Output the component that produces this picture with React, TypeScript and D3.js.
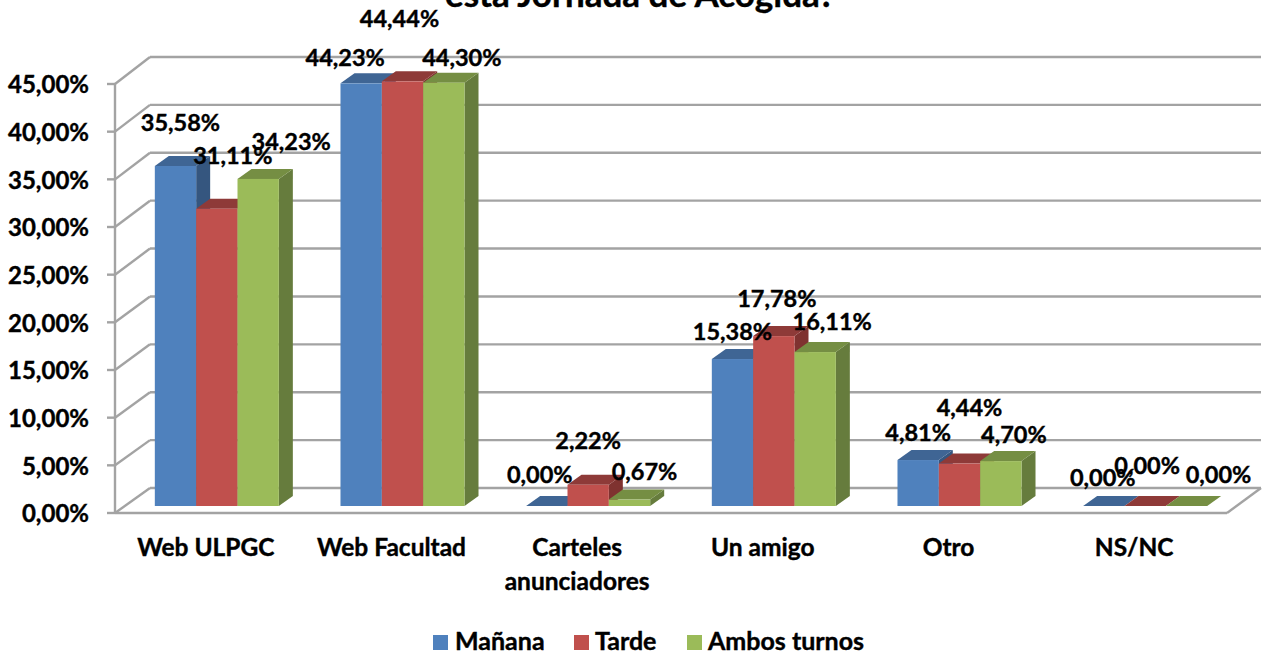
import React from 'react';
import * as d3 from 'd3';

const categories = [['Web ULPGC'], ['Web Facultad'], ['Carteles', 'anunciadores'], ['Un amigo'], ['Otro'], ['NS/NC']];
const manana = [35.58, 44.23, 0, 15.38, 4.81, 0];
const tarde = [31.11, 44.44, 2.22, 17.78, 4.44, 0];
const ambos = [34.23, 44.3, 0.67, 16.11, 4.7, 0];
const seriesNames = ['Mañana', 'Tarde', 'Ambos turnos'];
const yTicks = [0, 5, 10, 15, 20, 25, 30, 35, 40, 45];

// front, top, side colours per series
const colors = [
  ['#4F81BD', '#3F6594', '#35567F'],
  ['#C0504D', '#8E3A38', '#7F3230'],
  ['#9BBB59', '#758E43', '#667C3D'],
];

// data labels were dragged around by hand in the original, [dx, dy] from bar top
const labelOffsets = [
  [[5, -43], [16, -53], [33, -37]],
  [[-16, -26], [-3, -63], [18, -25]],
  [[-7, -31], [0, -44], [15, -28]],
  [[0, -27], [3, -37], [17, -30]],
  [[0, -27], [10, -56], [13, -26]],
  [[-1, -28], [2, -40], [32, -31]],
];

const FONT = 'Lato, sans-serif';
const GRID = '#A3A3A3';

const pct = (v: number) => v.toFixed(2).replace('.', ',') + '%';
const poly = d3.line().curve(d3.curveLinearClosed);

export default function App() {
  const series = [manana, tarde, ambos];

  const yFront = d3.scaleLinear().domain([0, 45]).range([513, 84]);
  const yBack = d3.scaleLinear().domain([0, 45]).range([488, 57]);
  const yBar = d3.scaleLinear().domain([0, 45]).range([506, 76]);

  const x0 = d3
    .scaleBand<number>()
    .domain(d3.range(categories.length))
    .range([124, 1238])
    .paddingInner(0.332)
    .paddingOuter(0.166);
  const x1 = d3.scaleBand<number>().domain([0, 1, 2]).range([0, x0.bandwidth()]);
  const bw = x1.bandwidth();

  const depthX = 14;
  const depthY = 10;

  const left = 115;
  const right = 1227;
  const backLeft = 150;
  const backRight = 1261;

  const labelCx = (i: number) => x0(i)! + x0.bandwidth() / 2 - 11;

  return (
    <svg
      width={1267}
      height={657}
      style={{ position: 'absolute', left: 0, top: 0, background: '#fff' }}
      fontFamily={FONT}
    >
      <text x={640} y={7} textAnchor="middle" fontWeight="700" fontSize={35} stroke="#000" strokeWidth={0.4}>
        esta Jornada de Acogida?
      </text>

      {/* walls */}
      <g stroke={GRID} strokeWidth={2.4} fill="none">
        {yTicks.map((t) => (
          <g key={t}>
            <line x1={backLeft} x2={backRight} y1={yBack(t)} y2={yBack(t)} />
            <line x1={left} x2={backLeft} y1={yFront(t)} y2={yBack(t)} />
            <line x1={left - 8} x2={left} y1={yFront(t)} y2={yFront(t)} />
          </g>
        ))}
        <line x1={left} x2={left} y1={yFront(45)} y2={yFront(0)} />
        <line x1={left} x2={right} y1={yFront(0)} y2={yFront(0)} />
        <line x1={right} x2={backRight} y1={yFront(0)} y2={yBack(0)} />
      </g>

      {/* bars */}
      {categories.map((_, i) =>
        series.map((s, j) => {
          const xa = x0(i)! + x1(j)!;
          const xb = xa + bw;
          const top = yBar(s[i]);
          const base = yBar(0);
          return (
            <g key={`${i}-${j}`}>
              <path
                fill={colors[j][2]}
                d={poly([[xb, top], [xb + depthX, top - depthY], [xb + depthX, base - depthY], [xb, base]])!}
              />
              <path
                fill={colors[j][1]}
                d={poly([[xa, top], [xb, top], [xb + depthX, top - depthY], [xa + depthX, top - depthY]])!}
              />
              <rect x={xa} y={top} width={bw} height={base - top} fill={colors[j][0]} />
            </g>
          );
        }),
      )}

      {/* data labels */}
      <g fontWeight="700" fontSize={23.5} textAnchor="middle" fill="#000" stroke="#000" strokeWidth={0.4}>
        {categories.map((_, i) =>
          series.map((s, j) => (
            <text
              key={`${i}-${j}`}
              x={x0(i)! + x1(j)! + bw / 2 + labelOffsets[i][j][0]}
              y={yBar(s[i]) + labelOffsets[i][j][1]}
              dy="0.35em"
            >
              {pct(s[i])}
            </text>
          )),
        )}
      </g>

      {/* y axis labels */}
      <g fontWeight="700" fontSize={24} textAnchor="end" fill="#000" stroke="#000" strokeWidth={0.4}>
        {yTicks.map((t) => (
          <text key={t} x={89} y={yFront(t) + 1} dy="0.35em">
            {pct(t)}
          </text>
        ))}
      </g>

      {/* category labels */}
      <g fontWeight="700" fontSize={24.5} textAnchor="middle" fill="#000" stroke="#000" strokeWidth={0.4}>
        {categories.map((lines, i) => (
          <text key={i} x={labelCx(i)} y={556}>
            {lines.map((l, k) => (
              <tspan key={l} x={labelCx(i)} dy={k === 0 ? 0 : 34}>
                {l}
              </tspan>
            ))}
          </text>
        ))}
      </g>

      {/* legend */}
      <g fontWeight="700" fontSize={25} fill="#000">
        {seriesNames.map((name, j) => {
          const lx = [433, 574, 687][j];
          return (
            <g key={name}>
              <rect x={lx} y={635} width={15} height={15} fill={colors[j][0]} />
              <text x={lx + [22, 21, 21][j]} y={650} stroke="#000" strokeWidth={0.4}>
                {name}
              </text>
            </g>
          );
        })}
      </g>
    </svg>
  );
}
